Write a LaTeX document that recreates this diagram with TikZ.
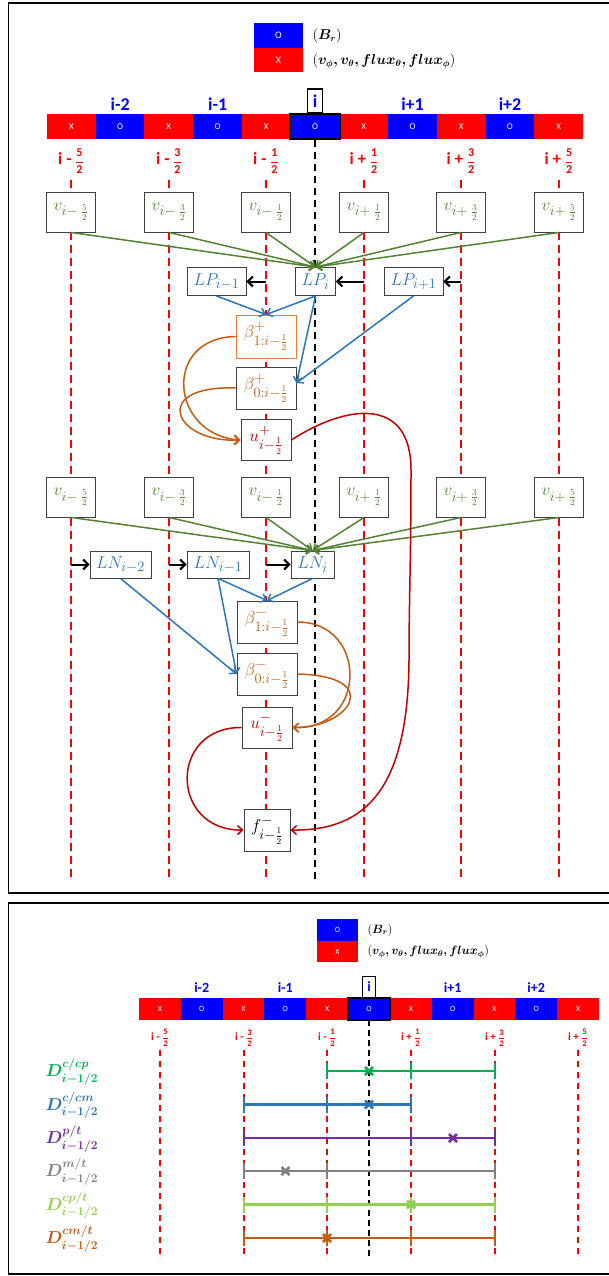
\documentclass[tikz,border=0pt]{standalone}
\usepackage{amsmath}
\usepackage{fontspec}
\usepackage{bm}
\newfontfamily\calibri{Carlito}
\usetikzlibrary{arrows.meta,calc}
\definecolor{barred}{HTML}{FF0000}
\definecolor{barblue}{HTML}{0000FF}
\definecolor{vgreen}{HTML}{548235}
\definecolor{lblue}{HTML}{2E75B6}
\definecolor{bor}{HTML}{C55A11}
\definecolor{borline}{HTML}{ED7D31}
\definecolor{ured}{HTML}{C00000}
\definecolor{boxgray}{HTML}{404040}
\definecolor{dgreen}{HTML}{00B050}
\definecolor{dpurple}{HTML}{7030A0}
\definecolor{dgray}{HTML}{808080}
\definecolor{dlgreen}{HTML}{92D050}
\newcommand{\hlab}[2]{{\fontsize{17}{17}\selectfont i #1 }{\fontsize{12}{12}\selectfont$\dfrac{\text{#2}}{\text{2}}$}}
\newcommand{\hlabsm}[2]{{\fontsize{11}{11}\selectfont i #1 }{\fontsize{8.5}{8.5}\selectfont$\dfrac{\text{#2}}{\text{2}}$}}
\newcommand{\vlab}[2]{$v_{i#1\mkern4mu\frac{#2}{2}}$}
\tikzset{
  frame/.style={draw=black, line width=1.6pt},
  cell/.style={draw=none, text=white, inner sep=0pt, font=\calibri\fontsize{9}{9}\selectfont},
  guide/.style={barred, line width=2pt, dash pattern=on 8pt off 5pt},
  axisline/.style={black, line width=2pt, dash pattern=on 7pt off 5pt},
  guidesm/.style={barred, line width=2pt, dash pattern=on 6pt off 5pt},
  axissm/.style={black, line width=2pt, dash pattern=on 6pt off 4pt},
  mbox/.style={draw=boxgray, fill=white, line width=0.9pt, inner sep=0pt, font=\fontsize{19}{20}\selectfont},
  vbox/.style={mbox, text=vgreen, minimum width=49pt, minimum height=40pt},
  arr/.style={-{Straight Barb[length=5pt,width=9pt]}, line width=1.5pt},
  karr/.style={-{Straight Barb[length=5pt,width=10pt]}, line width=2pt, black},
  idx/.style={text=barblue, font=\calibri\bfseries\fontsize{18}{18}\selectfont},
  half/.style={text=barred, font=\calibri\bfseries},
  idxsm/.style={text=barblue, font=\calibri\bfseries\fontsize{14}{14}\selectfont},
  seg/.style={line width=2.2pt},
  dlab/.style={anchor=west, font=\fontsize{17}{17}\selectfont},
  crs/.pic={\draw[line width=2.6pt] (-4,-4) -- (4,4) (-4,4) -- (4,-4);}
}
\begin{document}
\begin{tikzpicture}[x=1pt,y=-1pt]
\useasboundingbox (0,0) rectangle (609,1276);
\fill[white] (0,0) rectangle (609,1276);
% frames
\draw[frame] (8.5,3) rectangle (620,893);
\draw[frame] (8.5,903) rectangle (620,1274);

%%%%%%%%%%%%%%%% TOP PANEL %%%%%%%%%%%%%%%%
\node[cell, fill=barblue, minimum width=49pt, minimum height=25pt, font=\calibri\fontsize{10}{10}\selectfont] (lgO) at (278.5,35.5) {O};
\node[cell, fill=barred, minimum width=49pt, minimum height=24pt, font=\calibri\fontsize{10}{10}\selectfont] (lgX) at (278.5,60) {X};
\node[anchor=west, font=\fontsize{13.5}{14}\selectfont] (lgB) at (309,36) {$(\bm{B_r})$};
\node[anchor=west, font=\fontsize{13.5}{14}\selectfont] (lgV) at (309,61) {$(\bm{v_\phi, v_\theta, flux_\theta, flux_\phi})$};

% guide lines
\foreach \x in {71,169,266,364,461,559}
  \draw[guide] (\x,180) -- (\x,880);
\draw[axisline] (315,140) -- (315,880);

% bar
\foreach \k/\c/\t in {0/barred/X,1/barblue/O,2/barred/X,3/barblue/O,4/barred/X,5/barblue/O,6/barred/X,7/barblue/O,8/barred/X,9/barblue/O,10/barred/X}
  \node[cell, fill=\c, minimum width=48.8pt, minimum height=25pt] (ta\k) at ({47+48.73*(\k+0.5)},126.5) {\t};
\draw[line width=2pt] (ta5.north west) rectangle (ta5.south east);
\node[draw, line width=1.5pt, idx, minimum width=15pt, minimum height=24pt, inner sep=0pt, anchor=south] (tiI) at (ta5.north) {i};
\node[idx] (ti1) at (120.1,104) {i-2};
\node[idx] (ti3) at (217.6,104) {i-1};
\node[idx] (ti7) at (412.5,104) {i+1};
\node[idx] (ti9) at (510,104) {i+2};

\node[half] (th0) at (71,161) {\hlab{-}{5}};
\node[half] (th2) at (169,161) {\hlab{-}{3}};
\node[half] (th4) at (266,161) {\hlab{-}{1}};
\node[half] (th6) at (364,161) {\hlab{+}{1}};
\node[half] (th8) at (461,161) {\hlab{+}{3}};
\node[half] (th10) at (559,161) {\hlab{+}{5}};

% v row 1
\node[vbox] (va0) at (71,212) {\vlab{-}{5}};
\node[vbox] (va1) at (169,212) {\vlab{-}{3}};
\node[vbox] (va2) at (266,212) {\vlab{-}{1}};
\node[vbox] (va3) at (364,212) {\vlab{+}{1}};
\node[vbox] (va4) at (461,212) {\vlab{+}{3}};
\node[vbox] (va5) at (559,212) {\vlab{+}{5}};

% LP row
\node[mbox, text=lblue, minimum width=59pt, minimum height=28pt] (lpm) at (216.5,281.5) {$LP_{i-1}$};
\node[mbox, text=lblue, minimum width=40pt, minimum height=28pt] (lp0) at (315.5,281.5) {$LP_i$};
\node[mbox, text=lblue, minimum width=59pt, minimum height=28pt] (lpp) at (413.5,281.5) {$LP_{i+1}$};

\node[mbox, draw=borline, text=bor, minimum width=60pt, minimum height=43pt] (bp1) at (266,336.5) {$\beta^{+}_{1:i-\frac{1}{2}}$};
\node[mbox, text=bor, minimum width=60pt, minimum height=42pt] (bp0) at (266,388) {$\beta^{+}_{0:i-\frac{1}{2}}$};
\node[mbox, text=ured, minimum width=50pt, minimum height=41pt] (up) at (266,440) {$u^{+}_{i-\frac{1}{2}}$};

% v row 2
\node[vbox] (vb0) at (71,497) {\vlab{-}{5}};
\node[vbox] (vb1) at (169,497) {\vlab{-}{3}};
\node[vbox] (vb2) at (266,497) {\vlab{-}{1}};
\node[vbox] (vb3) at (364,497) {\vlab{+}{1}};
\node[vbox] (vb4) at (461,497) {\vlab{+}{3}};
\node[vbox] (vb5) at (559,497) {\vlab{+}{5}};

% LN row
\node[mbox, text=lblue, minimum width=61pt, minimum height=27pt] (ln2) at (120.5,564.5) {$LN_{i-2}$};
\node[mbox, text=lblue, minimum width=62pt, minimum height=27pt] (ln1) at (218,564.5) {$LN_{i-1}$};
\node[mbox, text=lblue, minimum width=43pt, minimum height=27pt] (ln0) at (312.5,564.5) {$LN_i$};

\node[mbox, text=bor, minimum width=60pt, minimum height=42pt] (bm1) at (267,622) {$\beta^{-}_{1:i-\frac{1}{2}}$};
\node[mbox, text=bor, minimum width=60pt, minimum height=42pt] (bm0) at (267,674) {$\beta^{-}_{0:i-\frac{1}{2}}$};
\node[mbox, text=ured, minimum width=50pt, minimum height=41pt] (um) at (267,727.5) {$u^{-}_{i-\frac{1}{2}}$};
\node[mbox, text=black, minimum width=46pt, minimum height=42pt] (fm) at (267,830) {$f^{-}_{i-\frac{1}{2}}$};

% green arrows
\foreach \n in {va0,va1,va2,va3,va4,va5}
  \draw[arr, vgreen] (\n.south) -- (lp0.north);
\foreach \n in {vb0,vb1,vb2,vb3,vb4,vb5}
  \draw[arr, vgreen] (\n.south) -- (ln0.north);

% black short arrows
\coordinate (g2) at (266,281.5);
\coordinate (g3) at (364,281.5);
\coordinate (g4) at (461,281.5);
\draw[karr] (g2) -- (lpm.east);
\draw[karr] (g3) -- (lp0.east);
\draw[karr] (g4) -- (lpp.east);
\coordinate (h0) at (71,564.5);
\coordinate (h1) at (169,564.5);
\coordinate (h2) at (266,564.5);
\draw[karr] (h0) -- (ln2.west);
\draw[karr] (h1) -- (ln1.west);
\draw[karr] (h2) -- (ln0.west);

% blue arrows
\draw[arr, lblue] (lpm.south) -- (bp1.north);
\draw[arr, lblue] (lp0.south) -- (bp1.north);
\draw[arr, lblue] (lp0.south) -- ([yshift=5pt]bp0.east);
\draw[arr, lblue] (lpp.south) -- ([yshift=5pt]bp0.east);
\draw[arr, lblue] (ln1.south) -- (bm1.north);
\draw[arr, lblue] (ln0.south) -- (bm1.north);
\draw[arr, lblue] (ln2.south) -- (bm0.west);
\draw[arr, lblue] (ln1.south) -- (bm0.west);

% orange curves
\draw[arr, bor] (bp1.west) .. controls (162,338) and (170,435) .. (up.west);
\draw[arr, bor] (bp0.west) .. controls (150,385) and (173,443) .. (up.west);
\draw[arr, bor] (bm1.east) .. controls (368,622) and (368,730) .. (um.east);
\draw[arr, bor] (bm0.east) .. controls (385,676) and (350,728) .. (um.east);

% red curves
\draw[arr, ured] (up.east) .. controls (345,405) and (411,395) .. (411,470) .. controls (411,560) and (409,600) .. (409,660) .. controls (408,790) and (365,831) .. (fm.east);
\draw[arr, ured] (um.west) .. controls (168,727) and (170,831) .. (fm.west);

%%%%%%%%%%%%%%%% BOTTOM PANEL %%%%%%%%%%%%%%%%
\node[cell, fill=barblue, minimum width=41pt, minimum height=22pt, font=\calibri\fontsize{8}{8}\selectfont] (lg2O) at (337.5,930) {O};
\node[cell, fill=barred, minimum width=41pt, minimum height=21pt, font=\calibri\fontsize{8}{8}\selectfont] (lg2X) at (337.5,951.5) {X};
\node[anchor=west, font=\fontsize{11.5}{12}\selectfont] (lg2B) at (364,930) {$(\bm{B_r})$};
\node[anchor=west, font=\fontsize{11.5}{12}\selectfont] (lg2V) at (364,952) {$(\bm{v_\phi, v_\theta, flux_\theta, flux_\phi})$};

\foreach \x in {160,244,327,411,495,578}
  \draw[guidesm] (\x,1050) -- (\x,1259);
\draw[axissm] (369,1020) -- (369,1259);

\foreach \k/\c/\t in {0/barred/X,1/barblue/O,2/barred/X,3/barblue/O,4/barred/X,5/barblue/O,6/barred/X,7/barblue/O,8/barred/X,9/barblue/O,10/barred/X}
  \node[cell, fill=\c, minimum width=41.9pt, minimum height=22pt, font=\calibri\fontsize{8}{8}\selectfont] (tb\k) at ({139+41.82*(\k+0.5)},1009) {\t};
\draw[line width=1.8pt] (tb5.north west) rectangle (tb5.south east);
\node[draw, line width=1.3pt, idxsm, minimum width=13pt, minimum height=21pt, inner sep=0pt, anchor=south] (tbI) at (tb5.north) {i};
\node[idxsm] (tj1) at (201.7,988) {i-2};
\node[idxsm] (tj3) at (285.4,988) {i-1};
\node[idxsm] (tj7) at (452.6,988) {i+1};
\node[idxsm] (tj9) at (536.2,988) {i+2};

\node[half] (tk0) at (160,1038) {\hlabsm{-}{5}};
\node[half] (tk2) at (244,1038) {\hlabsm{-}{3}};
\node[half] (tk4) at (327,1038) {\hlabsm{-}{1}};
\node[half] (tk6) at (411,1038) {\hlabsm{+}{1}};
\node[half] (tk8) at (495,1038) {\hlabsm{+}{3}};
\node[half] (tk10) at (578,1038) {\hlabsm{+}{5}};

% D rows
\node[dlab, text=dgreen] (d1) at (42,1072) {$\bm{D^{c/cp}_{i-1/2}}$};
\node[dlab, text=lblue] (d2) at (42,1105.5) {$\bm{D^{c/cm}_{i-1/2}}$};
\node[dlab, text=dpurple] (d3) at (42,1139) {$\bm{D^{p/t}_{i-1/2}}$};
\node[dlab, text=dgray] (d4) at (42,1172) {$\bm{D^{m/t}_{i-1/2}}$};
\node[dlab, text=dlgreen] (d5) at (42,1205.5) {$\bm{D^{cp/t}_{i-1/2}}$};
\node[dlab, text=bor] (d6) at (42,1239) {$\bm{D^{cm/t}_{i-1/2}}$};

% row 1 green
\draw[seg, dgreen] (327,1071) -- (495,1071);
\foreach \x in {327,411,495} \draw[seg, dgreen] (\x,1063) -- (\x,1079);
\pic[dgreen] at (369,1071) {crs};
% row 2 blue
\draw[seg, lblue] (244,1104.5) -- (411,1104.5);
\foreach \x in {244,327,411} \draw[seg, lblue] (\x,1096.5) -- (\x,1112.5);
\pic[lblue] at (369,1104.5) {crs};
% row 3 purple
\draw[seg, dpurple] (244,1138) -- (495,1138);
\foreach \x in {244,411,495} \draw[seg, dpurple] (\x,1130) -- (\x,1146);
\pic[dpurple] at (453,1138) {crs};
% row 4 gray
\draw[seg, dgray] (244,1171) -- (495,1171);
\foreach \x in {244,327,495} \draw[seg, dgray] (\x,1163) -- (\x,1179);
\pic[dgray] at (285.5,1171) {crs};
% row 5 light green
\draw[seg, dlgreen] (244,1204.5) -- (495,1204.5);
\foreach \x in {244,327,411,495} \draw[seg, dlgreen] (\x,1196.5) -- (\x,1212.5);
\pic[dlgreen] at (411,1204.5) {crs};
% row 6 orange
\draw[seg, bor] (244,1238) -- (495,1238);
\foreach \x in {244,327,411,495} \draw[seg, bor] (\x,1230) -- (\x,1246);
\pic[bor] at (327,1238) {crs};
\end{tikzpicture}
\end{document}
